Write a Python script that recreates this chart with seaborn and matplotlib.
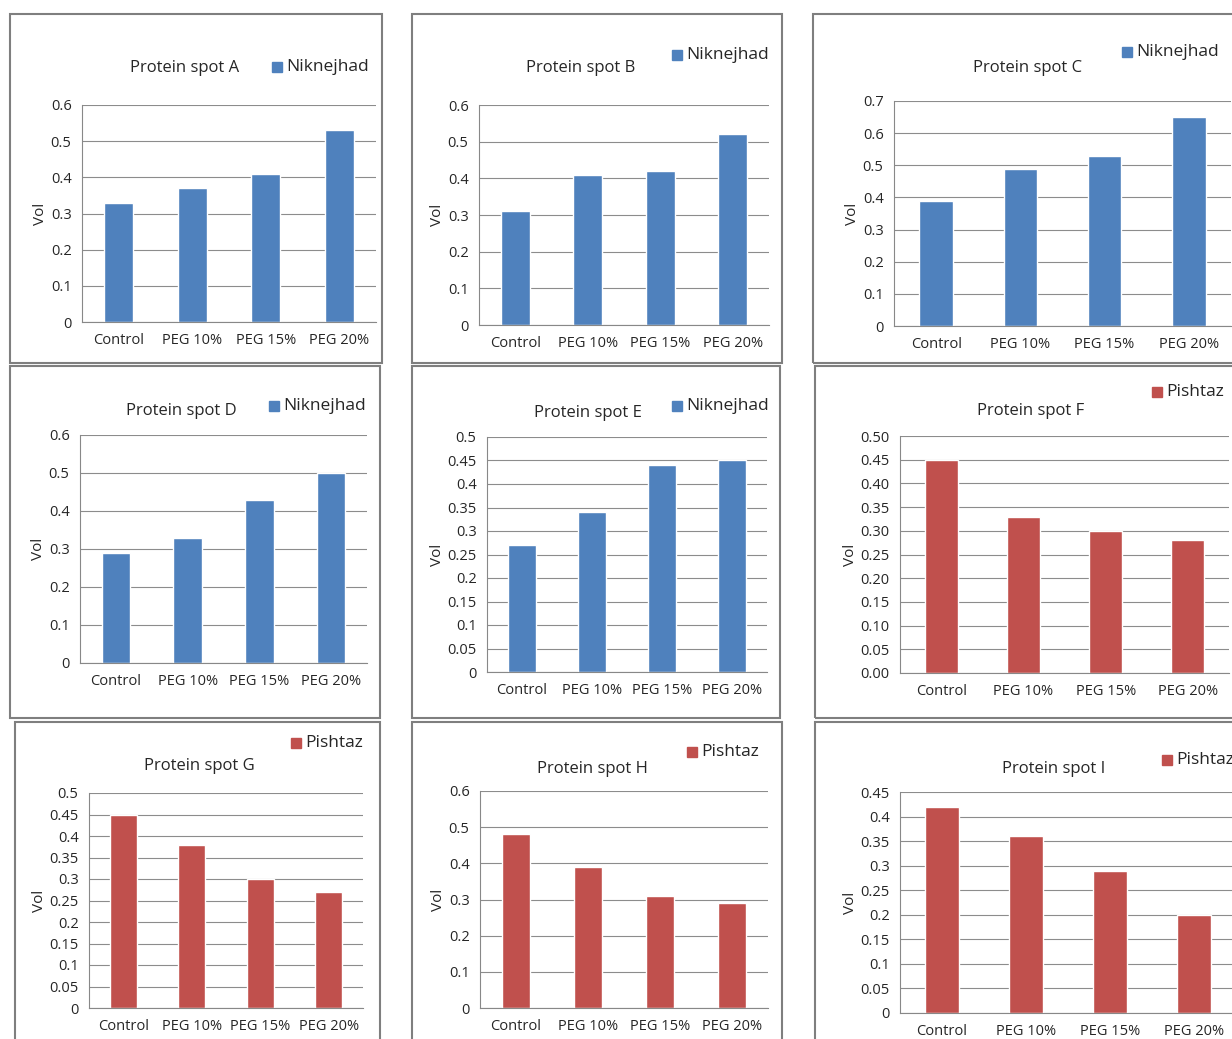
import pandas as pd
import numpy as np
import matplotlib
matplotlib.use("Agg")
import matplotlib.pyplot as plt
import seaborn as sns
from matplotlib.patches import Rectangle

sns.set_style("white")
plt.rcParams['font.family'] = ['Open Sans', 'DejaVu Sans']

categories = ["Control", "PEG 10%", "PEG 15%", "PEG 20%"]
spots = ["A", "B", "C", "D", "E", "F", "G", "H", "I"]
values = {
    "A": [0.33, 0.37, 0.41, 0.53],
    "B": [0.31, 0.41, 0.42, 0.52],
    "C": [0.39, 0.49, 0.53, 0.65],
    "D": [0.29, 0.33, 0.43, 0.50],
    "E": [0.27, 0.34, 0.44, 0.45],
    "F": [0.45, 0.33, 0.30, 0.28],
    "G": [0.45, 0.38, 0.30, 0.27],
    "H": [0.48, 0.39, 0.31, 0.29],
    "I": [0.42, 0.36, 0.29, 0.20],
}
cultivar = {"A": "Niknejhad", "B": "Niknejhad", "C": "Niknejhad", "D": "Niknejhad",
            "E": "Niknejhad", "F": "Pishtaz", "G": "Pishtaz", "H": "Pishtaz", "I": "Pishtaz"}
colors = {"Niknejhad": "#4F81BD", "Pishtaz": "#C0504D"}
# (ymax, step, tick format)
yaxes = {
    "A": (0.6, 0.1, "{:g}"), "B": (0.6, 0.1, "{:g}"), "C": (0.7, 0.1, "{:g}"),
    "D": (0.6, 0.1, "{:g}"), "E": (0.5, 0.05, "{:g}"), "F": (0.5, 0.05, "{:.2f}"),
    "G": (0.5, 0.05, "{:g}"), "H": (0.6, 0.1, "{:g}"), "I": (0.45, 0.05, "{:g}"),
}

W, H = 1232, 1039
# frame boxes and plot areas in pixels (x0, y0, x1, y1)
frames = {
    "A": (10, 14, 382, 363), "B": (412, 14, 782, 363), "C": (813, 14, 1240, 363),
    "D": (10, 366, 380, 718), "E": (412, 366, 780, 718), "F": (815, 366, 1240, 718),
    "G": (15, 722, 380, 1045), "H": (412, 722, 782, 1045), "I": (815, 722, 1240, 1045),
}
areas = {
    "A": (82, 105, 376, 322), "B": (479, 105, 769, 325), "C": (894, 101, 1231, 326),
    "D": (80, 435, 367, 663), "E": (487, 437, 767, 672), "F": (900, 436, 1229, 673),
    "G": (89, 793, 363, 1008), "H": (480, 791, 768, 1008), "I": (900, 792, 1236, 1013),
}
title_pos = {"A": (185, 68), "B": (581, 68), "C": (1028, 68), "D": (181, 411), "E": (588, 413),
             "F": (1031, 411), "G": (199, 766), "H": (592, 769), "I": (1054, 769)}
legend_pos = {"A": (274, 67), "B": (674, 55), "C": (1124, 52), "D": (271, 406), "E": (674, 406),
              "F": (1154, 392), "G": (293, 743), "H": (689, 752), "I": (1164, 760)}

fig = plt.figure(figsize=(W / 100, H / 100), dpi=100)

for s in spots:
    fx0, fy0, fx1, fy1 = frames[s]
    fig.patches.append(Rectangle((fx0 / W, 1 - fy1 / H), (fx1 - fx0) / W, (fy1 - fy0) / H,
                                 transform=fig.transFigure, fill=False, ec="#7f7f7f", lw=1.5))
    x0, y0, x1, y1 = areas[s]
    ax = fig.add_axes([x0 / W, 1 - y1 / H, (x1 - x0) / W, (y1 - y0) / H])
    df = pd.DataFrame({"cat": categories, "vol": values[s]})
    col = colors[cultivar[s]]
    sns.barplot(data=df, x="cat", y="vol", color=col, width=0.4, saturation=1, ax=ax)
    ymax, step, fmt = yaxes[s]
    ticks = np.round(np.arange(0, ymax + step / 2, step), 3)
    ax.set_ylim(0, ymax)
    ax.set_yticks(ticks)
    ax.set_yticklabels([fmt.format(t) for t in ticks], fontsize=10.5)
    ax.set_xlim(-0.5, 3.5)
    ax.set_xticks(range(4))
    ax.set_xticklabels(categories, fontsize=10.5)
    ax.set_xticks([-0.5, 0.5, 1.5, 2.5, 3.5], minor=True)
    ax.tick_params(axis="x", which="major", length=0, pad=8)
    ax.tick_params(axis="x", which="minor", length=5, color="#888888")
    ax.tick_params(axis="y", length=4, color="#888888")
    ax.yaxis.grid(True, color="#8c8c8c", lw=0.8)
    ax.set_axisbelow(True)
    for sp in ["top", "right"]:
        ax.spines[sp].set_visible(False)
    for sp in ["left", "bottom"]:
        ax.spines[sp].set_color("#888888")
    ax.set_xlabel("")
    ax.set_ylabel("Vol", fontsize=11, labelpad=2)
    tx, ty = title_pos[s]
    fig.text(tx / W, 1 - ty / H, "Protein spot " + s, ha="center", va="center", fontsize=12)
    lx, ly = legend_pos[s]
    fig.patches.append(Rectangle(((lx - 2) / W, 1 - (ly + 5) / H), 10 / W, 10 / H,
                                 transform=fig.transFigure, color=col))
    fig.text((lx + 12) / W, 1 - ly / H, cultivar[s], ha="left", va="center", fontsize=12.5)

fig.savefig("out.png", dpi=100)
